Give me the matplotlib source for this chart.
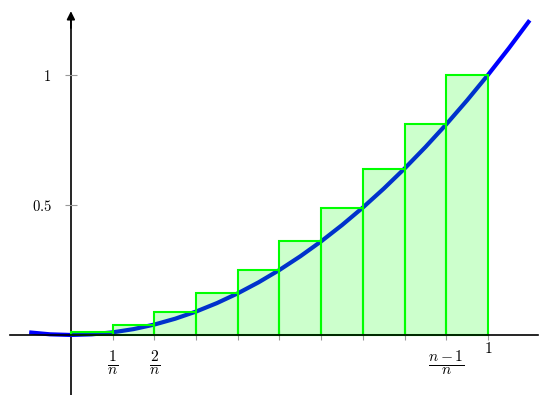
import matplotlib.pyplot as plt

plt.rcParams['mathtext.fontset'] = 'cm'
plt.rcParams['font.family'] = 'DejaVu Serif'

# curve y = x^2
curve_x = [-0.1, -0.05, 0.0, 0.05, 0.1, 0.15, 0.2, 0.25, 0.3, 0.35, 0.4, 0.45, 0.5,
           0.55, 0.6, 0.65, 0.7, 0.75, 0.8, 0.85, 0.9, 0.95, 1.0, 1.05, 1.1]
curve_y = [0.01, 0.0025, 0.0, 0.0025, 0.01, 0.0225, 0.04, 0.0625, 0.09, 0.1225, 0.16,
           0.2025, 0.25, 0.3025, 0.36, 0.4225, 0.49, 0.5625, 0.64, 0.7225, 0.81,
           0.9025, 1.0, 1.1025, 1.21]

# right Riemann sum rectangles
bar_left = [0.0, 0.1, 0.2, 0.3, 0.4, 0.5, 0.6, 0.7, 0.8, 0.9]
bar_height = [0.01, 0.04, 0.09, 0.16, 0.25, 0.36, 0.49, 0.64, 0.81, 1.0]

xtick_pos = [0.1, 0.2, 0.3, 0.4, 0.5, 0.6, 0.7, 0.8, 0.9, 1.0]
xtick_lbl = [r'$\frac{1}{n}$', r'$\frac{2}{n}$', '', '', '', '', '', '',
             r'$\frac{n-1}{n}$', '']
ytick_pos = [0.5, 1.0]
ytick_lbl = [r'$0.5$', r'$1$']

fig = plt.figure(figsize=(5.42, 3.95), dpi=100)
ax = fig.add_axes([0, 0, 1, 1])

ax.plot(curve_x, curve_y, color='#0000ff', lw=3.0, zorder=2, solid_capstyle='butt')
ax.bar(bar_left, bar_height, width=0.1, align='edge', color=(0, 1, 0, 0.2),
       edgecolor='#00ff00', linewidth=1.5, zorder=3)

ax.set_xlim(-0.170, 1.1295)
ax.set_ylim(-0.2308, 1.288)

for s in ['top', 'right']:
    ax.spines[s].set_visible(False)
ax.spines['left'].set_position(('data', 0))
ax.spines['bottom'].set_position(('data', 0))
ax.spines['left'].set_bounds(-0.25, 1.22)
ax.spines['bottom'].set_bounds(-0.146, 1.12)
ax.spines['left'].set_linewidth(1.2)
ax.spines['bottom'].set_linewidth(1.2)
ax.spines['left'].set_zorder(1)
ax.spines['bottom'].set_zorder(4)

ax.annotate('', xy=(0, 1.245), xytext=(0, 1.18),
            arrowprops=dict(arrowstyle='-|>', color='black', lw=1.2,
                            mutation_scale=12, shrinkA=0, shrinkB=0))
ax.annotate('', xy=(1.145, 0), xytext=(1.09, 0),
            arrowprops=dict(arrowstyle='-|>', color='black', lw=1.2,
                            mutation_scale=12, shrinkA=0, shrinkB=0))

ax.set_xticks(xtick_pos)
ax.set_xticklabels(xtick_lbl, fontsize=16)
# the "1" label sits higher than the fractions
ax.annotate(r'$1$', xy=(xtick_pos[-1], 0), xytext=(0, -9.5), textcoords='offset points',
            ha='center', va='center', fontsize=11)
ax.set_yticks(ytick_pos)
ax.set_yticklabels(ytick_lbl, fontsize=10.5)
ax.tick_params(axis='x', direction='inout', length=7, color='#999999', width=0.8, pad=6)
ax.tick_params(axis='y', direction='inout', length=8, color='#999999', width=0.8, pad=10)

fig.savefig('out.png', dpi=100)
